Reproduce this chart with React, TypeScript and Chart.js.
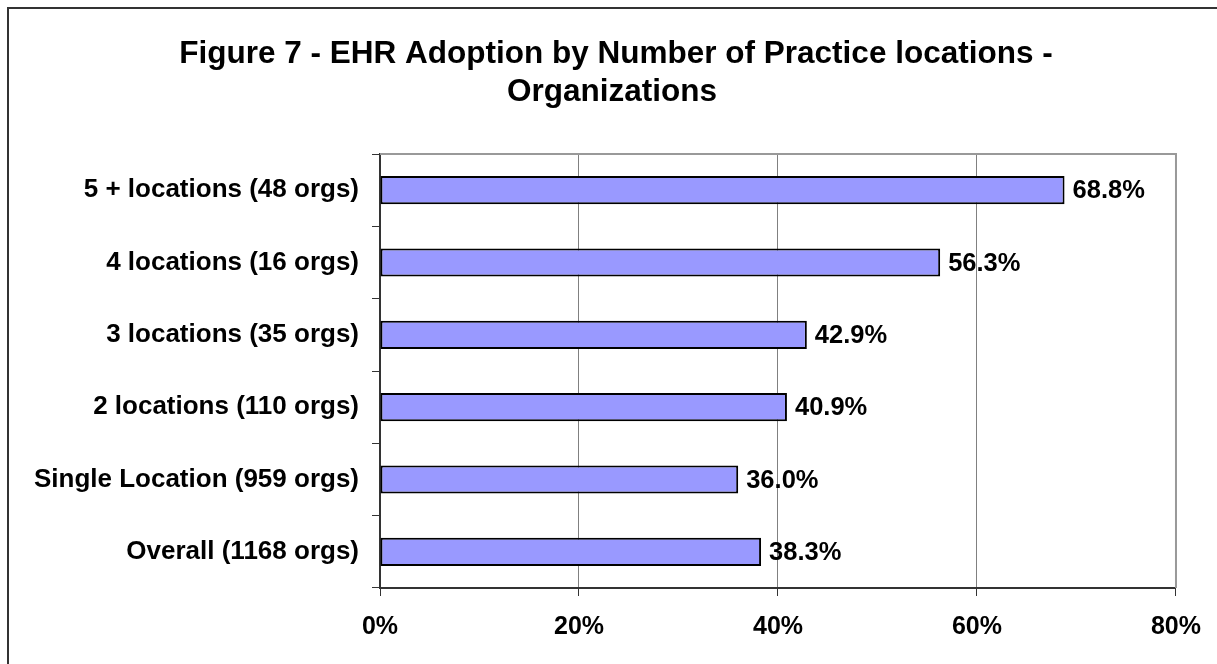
import React, { useEffect, useRef } from "react";
import { Chart, registerables } from "chart.js";

Chart.register(...registerables);

const categories: string[] = [
  "5 + locations (48 orgs)",
  "4 locations (16 orgs)",
  "3 locations (35 orgs)",
  "2 locations (110 orgs)",
  "Single Location (959 orgs)",
  "Overall (1168 orgs)",
];
const adoptionPct: number[] = [68.8, 56.3, 42.9, 40.9, 36.0, 38.3];
const titleLines: string[] = [
  "Figure 7 - EHR Adoption by Number of Practice locations -",
  "Organizations",
];
const xMax = 80;
const xStep = 20;

const FONT = "'Liberation Sans', Arial, Helvetica, sans-serif";

const framePlugin = {
  id: "frame",
  beforeDraw(chart: any) {
    const ctx = chart.ctx;
    ctx.save();
    ctx.fillStyle = "#ffffff";
    ctx.fillRect(0, 0, chart.width, chart.height);
    ctx.strokeStyle = "#333333";
    ctx.lineWidth = 2;
    ctx.beginPath();
    ctx.moveTo(8, chart.height + 5);
    ctx.lineTo(8, 8);
    ctx.lineTo(chart.width + 5, 8);
    ctx.stroke();
    // title
    ctx.font = `bold 31.5px ${FONT}`;
    ctx.fillStyle = "#000000";
    ctx.textAlign = "center";
    ctx.textBaseline = "alphabetic";
    ctx.fillText(titleLines[0], 616, 63);
    ctx.fillText(titleLines[1], 612, 101);
    ctx.restore();
  },
  beforeDatasetsDraw(chart: any) {
    const { ctx, chartArea } = chart;
    ctx.save();
    ctx.strokeStyle = "#999999";
    ctx.lineWidth = 2;
    ctx.beginPath();
    ctx.moveTo(chartArea.left, chartArea.top);
    ctx.lineTo(chartArea.right, chartArea.top);
    ctx.lineTo(chartArea.right, chartArea.bottom);
    ctx.stroke();
    ctx.restore();
  },
  afterDatasetsDraw(chart: any) {
    const ctx = chart.ctx;
    const meta = chart.getDatasetMeta(0);
    ctx.save();
    ctx.font = `bold 25.5px ${FONT}`;
    ctx.fillStyle = "#000000";
    ctx.textAlign = "left";
    ctx.textBaseline = "middle";
    meta.data.forEach((bar: any, i: number) => {
      const v = chart.data.datasets[0].data[i] as number;
      ctx.fillText(v.toFixed(1) + "%", bar.x + 8, bar.y + 1);
    });
    ctx.restore();
  },
};

export default function App() {
  const canvasRef = useRef<HTMLCanvasElement | null>(null);

  useEffect(() => {
    if (!canvasRef.current) return;
    const chart = new Chart(canvasRef.current, {
      type: "bar",
      data: {
        labels: categories,
        datasets: [
          {
            data: adoptionPct,
            backgroundColor: "#9999FF",
            borderColor: "#000000",
            borderWidth: 2,
            borderSkipped: false,
            barPercentage: 0.39,
            categoryPercentage: 1,
          },
        ],
      },
      options: {
        indexAxis: "y",
        animation: false,
        responsive: false,
        maintainAspectRatio: false,
        layout: { padding: { left: 0, right: 40, top: 154, bottom: 0 } },
        plugins: {
          legend: { display: false },
          tooltip: { enabled: false },
          title: { display: false },
        },
        scales: {
          x: {
            min: 0,
            max: xMax,
            afterFit: (scale: any) => {
              scale.height = 76;
            },
            ticks: {
              stepSize: xStep,
              color: "#000000",
              font: { family: FONT, size: 25, weight: "bold" },
              padding: 16,
              callback: (v: any) => v + "%",
            },
            grid: {
              color: "#808080",
              lineWidth: 1,
              tickColor: "#333333",
              tickLength: 8,
            },
            border: { display: true, color: "#333333", width: 2 },
          },
          y: {
            afterFit: (scale: any) => {
              scale.width = 380;
            },
            ticks: {
              color: "#000000",
              font: { family: FONT, size: 26, weight: "bold" },
              padding: 13,
            },
            grid: {
              offset: true,
              drawOnChartArea: false,
              drawTicks: true,
              tickLength: 8,
              color: "#333333",
              lineWidth: 1,
            },
            border: { display: true, color: "#333333", width: 2 },
          },
        },
      },
      plugins: [framePlugin],
    });
    return () => chart.destroy();
  }, []);

  return (
    <div style={{ position: "absolute", left: 0, top: 0, width: 1217, height: 664 }}>
      <canvas ref={canvasRef} width={1217} height={664} style={{ width: 1217, height: 664, display: "block" }} />
    </div>
  );
}
